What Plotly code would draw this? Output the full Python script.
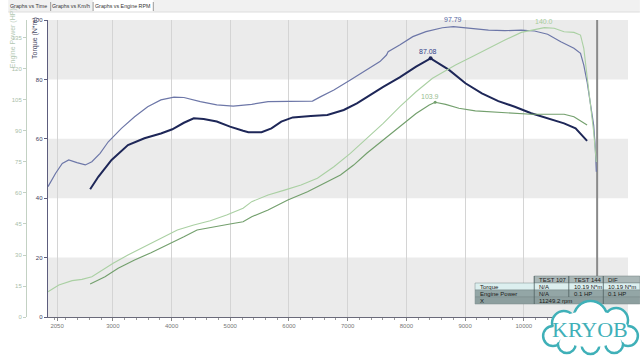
import plotly.graph_objects as go

# ---------------- data ----------------
rpm_tq_a = [1895, 2025, 2138, 2248, 2388, 2530, 2642, 2782, 2922, 3146, 3370, 3593, 3818, 4042, 4210,
            4490, 4770, 5050, 5365, 5644, 6000, 6400, 6541, 6765, 7045, 7325, 7549, 7661, 7689, 7885,
            8109, 8333, 8613, 8800, 9118, 9398, 9678, 9958, 10182, 10406, 10630, 10854, 10966, 11022,
            11078, 11134, 11190, 11218, 11235]
tq_a = [43.9, 48.4, 51.7, 52.9, 52.0, 51.2, 52.3, 55.1, 59.0, 63.5, 67.4, 70.8, 73.1, 74.0, 73.9,
        72.5, 71.4, 71.0, 71.6, 72.5, 72.6, 72.7, 74.2, 76.4, 79.8, 83.2, 86.0, 88.2, 89.3, 91.6,
        94.4, 96.1, 97.4, 97.79, 97.2, 96.6, 96.4, 96.6, 96.3, 95.2, 92.7, 90.5, 88.8, 84.8,
        79.2, 72.5, 64.6, 56.9, 48.9]

rpm_pw_a = [1895, 2080, 2306, 2474, 2642, 2810, 3005, 3257, 3538, 3818, 4098, 4378, 4659, 4938, 5218,
            5365, 5644, 5924, 6205, 6484, 6765, 7045, 7325, 7605, 7885, 8165, 8445, 8837, 9118, 9398,
            9678, 9958, 10126, 10350, 10518, 10686, 10854, 10966, 11022, 11078, 11134, 11190, 11235]
pw_a = [12.2, 15.5, 17.6, 18.2, 19.5, 22.7, 26.0, 30.0, 34.0, 38.1, 42.1, 44.5, 46.6, 49.3, 52.6,
        55.8, 59.0, 61.4, 63.9, 67.1, 72.7, 79.2, 86.5, 93.7, 101.7, 109.0, 115.5, 121.9, 125.9, 130.0,
        134.0, 137.7, 138.8, 140.0, 139.7, 138.0, 137.7, 136.4, 130.0, 117.0, 102.6, 89.6, 75.0]

rpm_tq_b = [2613, 2752, 2978, 3257, 3538, 3818, 4013, 4210, 4378, 4546, 4770, 4995, 5218, 5308, 5533,
            5701, 5869, 6064, 6373, 6653, 6933, 7157, 7381, 7605, 7885, 8165, 8412, 8726, 9006, 9286,
            9566, 9846, 10126, 10406, 10686, 10882, 10994, 11078]
tq_b = [43.0, 47.2, 52.9, 57.9, 60.2, 61.8, 63.2, 65.4, 66.9, 66.7, 65.8, 64.1, 62.7, 62.2, 62.2,
        63.5, 65.8, 67.2, 67.7, 68.0, 69.7, 71.9, 74.7, 77.5, 80.7, 84.3, 87.08, 83.2, 78.7, 75.3,
        72.7, 70.8, 68.6, 66.9, 65.2, 63.5, 61.3, 59.3]

rpm_pw_b = [2613, 2866, 3090, 3370, 3650, 3930, 4210, 4434, 4714, 4995, 5218, 5365, 5644, 5980, 6316,
            6597, 6877, 7101, 7325, 7605, 7885, 8165, 8389, 8490, 8669, 8894, 9174, 9510, 9846, 10126,
            10406, 10686, 10854, 10994, 11078]
pw_b = [16.0, 19.5, 23.6, 27.6, 31.1, 34.8, 38.8, 42.1, 43.7, 45.0, 46.1, 48.5, 51.8, 56.6, 60.6,
        64.7, 68.7, 73.5, 79.2, 85.6, 92.1, 98.5, 102.6, 103.9, 102.9, 101.0, 99.7, 99.1, 98.5, 98.1,
        98.1, 98.1, 96.9, 94.5, 92.9]

x_tick_vals = [2050, 3000, 4000, 5000, 6000, 7000, 8000, 9000, 10000]
x_tick_text = ["2050", "3000", "4000", "5000", "6000", "7000", "8000", "9000", "10000"]
tq_ticks = [0, 20, 40, 60, 80, 100]
pw_ticks = [0, 15, 30, 45, 60, 75, 90, 105, 120, 135]
cursor_rpm = 11249.2

tabs = ["Graphs vs Time", "Graphs vs Km/h", "Graphs vs Engine RPM"]
table_header = ["", "TEST 107", "TEST 144", "DIF"]
table_rows = [["Torque", "N/A", "10.19 N*m", "10.19 N*m"],
              ["Engine Power", "N/A", "0.1 HP", "0.1 HP"],
              ["X", "11249.2 rpm", "", ""]]

# ---------------- layout helpers ----------------
W, H = 640, 357
L, R, T, B = 18, 12, 20, 40
PW, PH = W - L - R, H - T - B
def px(x):
    return (x - L) / PW
def py(y):
    return (H - B - y) / PH

FONT = "Liberation Sans"

fig = go.Figure()

fig.add_trace(go.Scatter(x=rpm_pw_a, y=pw_a, yaxis="y2", mode="lines",
                         line=dict(color="#aad0a3", width=1.1), hoverinfo="skip"))
fig.add_trace(go.Scatter(x=rpm_pw_b, y=pw_b, yaxis="y2", mode="lines",
                         line=dict(color="#74a06e", width=1.2), hoverinfo="skip"))
fig.add_trace(go.Scatter(x=rpm_tq_a, y=tq_a, mode="lines",
                         line=dict(color="#6d77a8", width=1.2), hoverinfo="skip"))
fig.add_trace(go.Scatter(x=rpm_tq_b, y=tq_b, mode="lines",
                         line=dict(color="#1e2758", width=2), hoverinfo="skip"))

def peak(xs, ys):
    i = max(range(len(ys)), key=lambda k: ys[k])
    return xs[i], ys[i]

pk_tq_a = peak(rpm_tq_a, tq_a)
pk_tq_b = peak(rpm_tq_b, tq_b)
pk_pw_a = peak(rpm_pw_a, pw_a)
pk_pw_b = peak(rpm_pw_b, pw_b)

fig.add_trace(go.Scatter(x=[pk_tq_b[0]], y=[pk_tq_b[1]], mode="markers",
                         marker=dict(color="#1e2758", size=4), hoverinfo="skip"))
fig.add_trace(go.Scatter(x=[pk_pw_b[0]], y=[pk_pw_b[1]], yaxis="y2", mode="markers",
                         marker=dict(color="#74a06e", size=3), hoverinfo="skip"))

shapes = []
# gray bands
for y0 in (0, 40, 80):
    shapes.append(dict(type="rect", xref="paper", yref="y", x0=px(40), x1=1, y0=y0, y1=y0 + 20,
                       fillcolor="#ebebeb", line=dict(width=0), layer="below"))
# cursor line
shapes.append(dict(type="line", xref="x", yref="y", x0=cursor_rpm, x1=cursor_rpm, y0=0, y1=101.7,
                   line=dict(color="#8a8a8a", width=2), layer="between"))

# tab bar
shapes.append(dict(type="rect", xref="paper", yref="paper", x0=px(0), x1=px(640), y0=py(12), y1=py(0),
                   fillcolor="#f1f1f1", line=dict(width=0)))
shapes.append(dict(type="rect", xref="paper", yref="paper", x0=px(86), x1=px(147), y0=py(12), y1=py(0),
                   fillcolor="#ffffff", line=dict(width=0)))
for sx in (43, 86, 147):
    shapes.append(dict(type="line", xref="paper", yref="paper", x0=px(sx), x1=px(sx), y0=py(11), y1=py(2),
                       line=dict(color="#9a9a9a", width=1)))
shapes.append(dict(type="line", xref="paper", yref="paper", x0=px(0), x1=px(640), y0=py(12), y1=py(12),
                   line=dict(color="#dddddd", width=1)))

# table
col_edges = [473, 533, 568, 603, 640]
row_edges = [276, 283, 290, 297, 304]
row_fills = ["#dcefef", "#93a6a6", "#8d9f9f"]
for c in range(1, 4):
    shapes.append(dict(type="rect", xref="paper", yref="paper", x0=px(col_edges[c]), x1=px(col_edges[c + 1]),
                       y0=py(row_edges[1]), y1=py(row_edges[0]), fillcolor="#aab7b7",
                       line=dict(color="#6f7f7f", width=0.5)))
for r, fc in enumerate(row_fills):
    shapes.append(dict(type="rect", xref="paper", yref="paper", x0=px(col_edges[0]), x1=px(col_edges[-1]),
                       y0=py(row_edges[r + 2]), y1=py(row_edges[r + 1]), fillcolor=fc,
                       line=dict(color="#7a8a8a", width=0.5)))
for cx in (533, 603):
    shapes.append(dict(type="line", xref="paper", yref="paper", x0=px(cx), x1=px(cx),
                       y0=py(304), y1=py(276), line=dict(color="#4f5f5f", width=0.8)))
shapes.append(dict(type="line", xref="paper", yref="paper", x0=px(568), x1=px(568),
                   y0=py(297), y1=py(276), line=dict(color="#4f5f5f", width=0.8)))

# logo cloud
TEAL = "#3fb0b8"
circles = [(590, 318, 17), (563, 323, 12), (616, 320, 12), (552, 336, 10), (628, 336, 10),
           (566, 344, 9), (590, 345, 9), (614, 344, 9)]
for cx, cy, r in circles:
    shapes.append(dict(type="circle", xref="paper", yref="paper", x0=px(cx - r), x1=px(cx + r),
                       y0=py(cy + r), y1=py(cy - r), fillcolor="white", line=dict(color=TEAL, width=2.5),
                       layer="above"))
for cx, cy, r in circles:
    rr = r - 1.8
    shapes.append(dict(type="circle", xref="paper", yref="paper", x0=px(cx - rr), x1=px(cx + rr),
                       y0=py(cy + rr), y1=py(cy - rr), fillcolor="white", line=dict(width=0),
                       layer="above"))
shapes.append(dict(type="circle", xref="paper", yref="paper", x0=px(552), x1=px(628),
                   y0=py(347), y1=py(311), fillcolor="white", line=dict(width=0), layer="above"))

annotations = []
def note(text, x, y, size=6, color="#222", xa="center", ya="middle", **kw):
    d = dict(text=text, xref="paper", yref="paper", x=px(x), y=py(y), xanchor=xa, yanchor=ya,
             showarrow=False, font=dict(family=kw.pop("family", FONT), size=size, color=color))
    d.update(kw)
    annotations.append(d)

# axis titles
note("Engine Power (HP)", 5, 38, size=7, color="#b3c8b3", textangle=-90)
note("Torque (N*m)", 27, 38, size=7, color="#4a4a64", textangle=-90)
# peak labels
annotations.append(dict(text=f"{pk_tq_a[1]:.2f}", x=pk_tq_a[0], y=pk_tq_a[1], xref="x", yref="y",
                        yshift=7, showarrow=False, font=dict(family=FONT, size=7, color="#5565a0")))
annotations.append(dict(text=f"{pk_tq_b[1]:.2f}", x=pk_tq_b[0], y=pk_tq_b[1], xref="x", yref="y",
                        yshift=7, xshift=-3, showarrow=False, font=dict(family=FONT, size=7, color="#34448a")))
annotations.append(dict(text=f"{pk_pw_a[1]:.1f}", x=pk_pw_a[0], y=pk_pw_a[1], xref="x", yref="y2",
                        yshift=6, showarrow=False, font=dict(family=FONT, size=7, color="#a8cc9c")))
annotations.append(dict(text=f"{pk_pw_b[1]:.1f}", x=pk_pw_b[0], y=pk_pw_b[1], xref="x", yref="y2",
                        yshift=6, xshift=-5, showarrow=False, font=dict(family=FONT, size=7, color="#98bc90")))
# tabs
for t, cx in zip(tabs, (21, 64, 116)):
    note(t, cx, 6, size=5.3, color="#333333", borderpad=0)
# table text
for c, h in enumerate(table_header):
    if h:
        note(h, col_edges[c] + 3, 279.5, xa="left", color="#222")
for r, row in enumerate(table_rows):
    for c, v in enumerate(row):
        if v:
            note(v, col_edges[c] + 3, (row_edges[r + 1] + row_edges[r + 2]) / 2, xa="left", color="#1a1a1a")
# logo text
note("KRYOB", 589, 329, size=22, color=TEAL, family="Liberation Serif")

fig.update_layout(
    width=W, height=H, margin=dict(l=L, r=R, t=T, b=B),
    paper_bgcolor="white", plot_bgcolor="white", showlegend=False,
    shapes=shapes, annotations=annotations,
    xaxis=dict(domain=[px(40), 1], range=[1890, 11775], tickmode="array", tickvals=x_tick_vals,
               ticktext=x_tick_text, showgrid=True, gridcolor="#d4d4d4", gridwidth=1, zeroline=False,
               showline=True, linecolor="#6a6a7a", linewidth=1, ticks="outside", ticklen=3,
               tickcolor="#888", tickfont=dict(family=FONT, size=6, color="#777"),
               minor=dict(tickmode="linear", tick0=2000, dtick=200, ticks="outside", ticklen=2,
                          tickcolor="#999", showgrid=False)),
    yaxis=dict(range=[0, 100], tickvals=tq_ticks, showgrid=False, zeroline=False, showline=True,
               linecolor="#5d5d7d", linewidth=1, ticks="outside", ticklen=3, tickcolor="#5d5d7d",
               tickfont=dict(family=FONT, size=6, color="#3c3c5a"), anchor="x"),
    yaxis2=dict(range=[0, 143.7], tickvals=pw_ticks, overlaying="y", side="left", anchor="free",
                position=0, showgrid=False, zeroline=False, showline=True, linecolor="#c3d1c3",
                linewidth=1, ticks="outside", ticklen=3, tickcolor="#c3d1c3",
                tickfont=dict(family=FONT, size=6, color="#a9bea9")),
)

fig.write_html("out.html")
